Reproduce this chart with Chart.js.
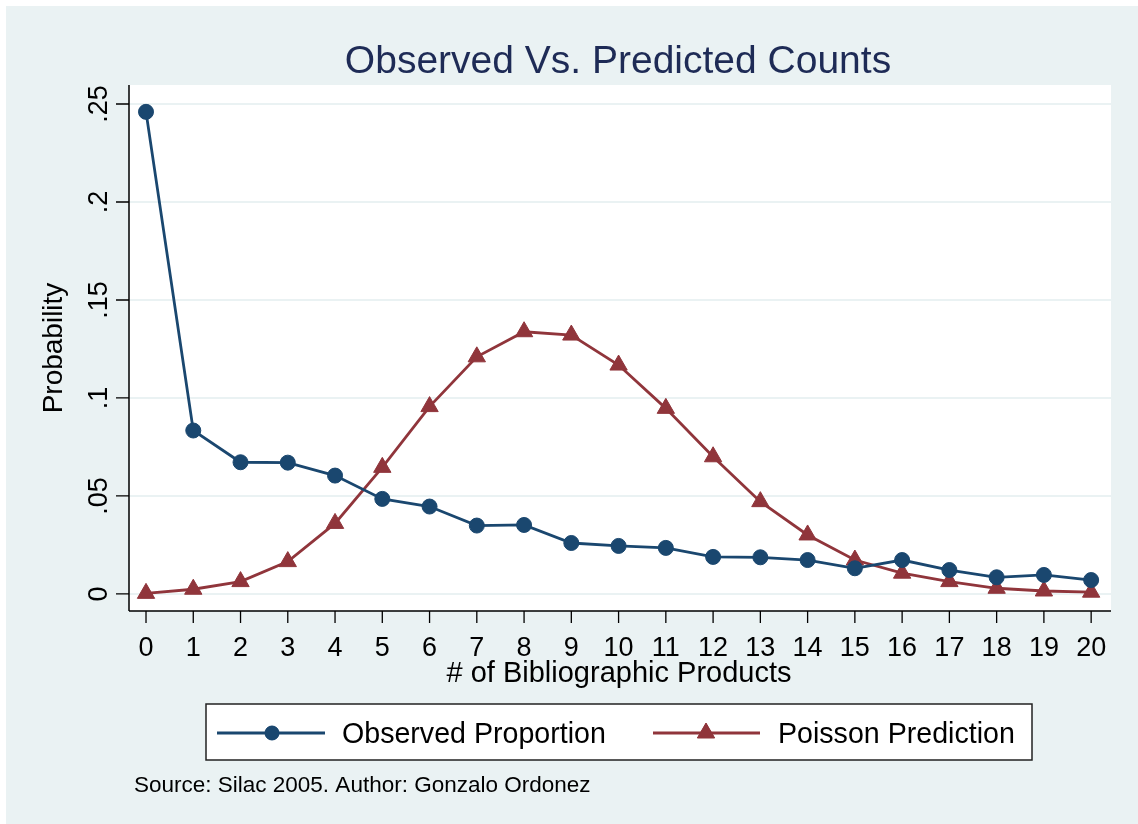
<!DOCTYPE html>
<html>
<head>
<meta charset="utf-8">
<script src="https://cdn.jsdelivr.net/npm/chart.js@4/dist/chart.umd.min.js"></script>
<style>
  html, body { margin: 0; padding: 0; background: #ffffff; }
  canvas { display: block; }
</style>
</head>
<body>
<canvas id="c" width="1138" height="824"></canvas>
<script>
// ---- data ----
const categories = [0,1,2,3,4,5,6,7,8,9,10,11,12,13,14,15,16,17,18,19,20];
const observed = [0.246, 0.0834, 0.0672, 0.0670, 0.0604, 0.0485, 0.0446, 0.0349, 0.0352, 0.0260, 0.0245,
                  0.0235, 0.0189, 0.0187, 0.0173, 0.0131, 0.0173, 0.0122, 0.0085, 0.0097, 0.0071];
const poisson = [0.0003, 0.0024, 0.0063, 0.0165, 0.0360, 0.0646, 0.0956, 0.1210, 0.1338, 0.1321, 0.1168,
                 0.0947, 0.0700, 0.0471, 0.0301, 0.0173, 0.0106, 0.0063, 0.0029, 0.0015, 0.0009];
const yTickValues = [0, 0.05, 0.10, 0.15, 0.20, 0.25];
const yTickLabels = ["0", ".05", ".1", ".15", ".2", ".25"];
const xTickValues = categories;
const xTickLabels = categories.map(String);
const seriesNames = ["Observed Proportion", "Poisson Prediction"];
const titleText = "Observed Vs. Predicted Counts";
const xTitle = "# of Bibliographic Products";
const yTitle = "Probability";
const noteText = "Source: Silac 2005. Author: Gonzalo Ordonez";

const BLUE = '#1a476f';
const RED = '#90353b';
const BG = '#eaf2f3';
const FONT = '"Liberation Sans", Arial, Helvetica, sans-serif';

const decor = {
  id: 'decor',
  beforeDraw(chart) {
    const ctx = chart.ctx;
    const a = chart.chartArea;
    ctx.save();
    ctx.fillStyle = '#ffffff';
    ctx.fillRect(0, 0, chart.width, chart.height);
    ctx.fillStyle = BG;
    ctx.fillRect(6, 6, chart.width - 6, chart.height - 6);
    ctx.fillStyle = '#ffffff';
    ctx.fillRect(a.left, a.top, a.right - a.left, a.bottom - a.top);
    ctx.restore();
  },
  afterDraw(chart) {
    const ctx = chart.ctx;
    const a = chart.chartArea;
    const xs = chart.scales.x, ys = chart.scales.y;
    ctx.save();
    // axis lines
    ctx.strokeStyle = '#000000';
    ctx.lineWidth = 1.5;
    ctx.beginPath();
    ctx.moveTo(a.left, a.top); ctx.lineTo(a.left, a.bottom);
    ctx.moveTo(a.left, a.bottom); ctx.lineTo(a.right, a.bottom);
    ctx.stroke();
    // ticks
    ctx.lineWidth = 1.3;
    ctx.beginPath();
    yTickValues.forEach(v => {
      const py = ys.getPixelForValue(v);
      ctx.moveTo(a.left - 13, py); ctx.lineTo(a.left, py);
    });
    xTickValues.forEach(v => {
      const px = xs.getPixelForValue(v);
      ctx.moveTo(px, a.bottom); ctx.lineTo(px, a.bottom + 12);
    });
    ctx.stroke();
    // x tick labels
    ctx.fillStyle = '#000000';
    ctx.font = '27px ' + FONT;
    ctx.textAlign = 'center';
    ctx.textBaseline = 'alphabetic';
    xTickValues.forEach((v, i) => {
      ctx.fillText(xTickLabels[i], xs.getPixelForValue(v), 656);
    });
    // y tick labels (rotated)
    yTickValues.forEach((v, i) => {
      const py = ys.getPixelForValue(v);
      ctx.save();
      ctx.translate(107, py);
      ctx.rotate(-Math.PI / 2);
      ctx.textAlign = 'center';
      ctx.fillText(yTickLabels[i], 0, 0);
      ctx.restore();
    });
    // axis titles
    ctx.font = '29px ' + FONT;
    ctx.textAlign = 'center';
    ctx.fillText(xTitle, 619, 682);
    ctx.save();
    ctx.translate(62, (a.top + a.bottom) / 2);
    ctx.rotate(-Math.PI / 2);
    ctx.font = '28px ' + FONT;
    ctx.fillText(yTitle, 0, 0);
    ctx.restore();
    // title
    ctx.fillStyle = '#1e2b56';
    ctx.font = '39px ' + FONT;
    ctx.fillText(titleText, 618, 73);
    // legend
    ctx.fillStyle = '#ffffff';
    ctx.fillRect(206, 704, 826, 56);
    ctx.strokeStyle = '#222222';
    ctx.lineWidth = 1.5;
    ctx.strokeRect(206, 704, 826, 56);
    const ly = 733;
    const items = [
      {x0: 217, x1: 325, mx: 272, tx: 342, color: BLUE, style: 'circle', r: 7},
      {x0: 653, x1: 760, mx: 706, tx: 778, color: RED, style: 'triangle', r: 10}
    ];
    items.forEach((it, i) => {
      ctx.strokeStyle = it.color;
      ctx.lineWidth = 2.8;
      ctx.beginPath();
      ctx.moveTo(it.x0, ly); ctx.lineTo(it.x1, ly);
      ctx.stroke();
      ctx.fillStyle = it.color;
      ctx.lineWidth = 1;
      Chart.helpers.drawPoint(ctx, {pointStyle: it.style, radius: it.r, borderWidth: 1}, it.mx, ly);
      ctx.fill();
      ctx.fillStyle = '#000000';
      ctx.font = '28.6px ' + FONT;
      ctx.textAlign = 'left';
      ctx.fillText(seriesNames[i], it.tx, 743);
    });
    // note
    ctx.font = '22.5px ' + FONT;
    ctx.textAlign = 'left';
    ctx.fillText(noteText, 134, 792);
    ctx.restore();
  }
};

new Chart(document.getElementById('c'), {
  type: 'line',
  data: {
    datasets: [
      {
        label: seriesNames[0],
        data: categories.map((c, i) => ({x: c, y: observed[i]})),
        borderColor: BLUE, backgroundColor: BLUE,
        borderWidth: 2.8, pointStyle: 'circle', pointRadius: 7.5,
        pointBorderWidth: 1, pointBorderColor: BLUE, pointBackgroundColor: BLUE,
        tension: 0, clip: false
      },
      {
        label: seriesNames[1],
        data: categories.map((c, i) => ({x: c, y: poisson[i]})),
        borderColor: RED, backgroundColor: RED,
        borderWidth: 2.8, pointStyle: 'triangle', pointRadius: 10,
        pointBorderWidth: 1, pointBorderColor: RED, pointBackgroundColor: RED,
        tension: 0, clip: false
      }
    ]
  },
  options: {
    responsive: false,
    animation: false,
    events: [],
    layout: { padding: { left: 129, top: 85, right: 27, bottom: 213 } },
    plugins: { legend: { display: false }, title: { display: false }, tooltip: { enabled: false } },
    scales: {
      x: {
        type: 'linear', min: -0.36, max: 20.42,
        ticks: { display: false },
        grid: { display: false, drawTicks: false },
        border: { display: false },
        afterBuildTicks: s => { s.ticks = xTickValues.map(v => ({value: v})); },
        afterFit: s => { s.height = 0; }
      },
      y: {
        type: 'linear', min: -0.0087, max: 0.2597,
        ticks: { display: false },
        grid: { color: BG, lineWidth: 2, drawTicks: false },
        border: { display: false },
        afterBuildTicks: s => { s.ticks = yTickValues.map(v => ({value: v})); },
        afterFit: s => { s.width = 0; }
      }
    }
  },
  plugins: [decor]
});
</script>
</body>
</html>
